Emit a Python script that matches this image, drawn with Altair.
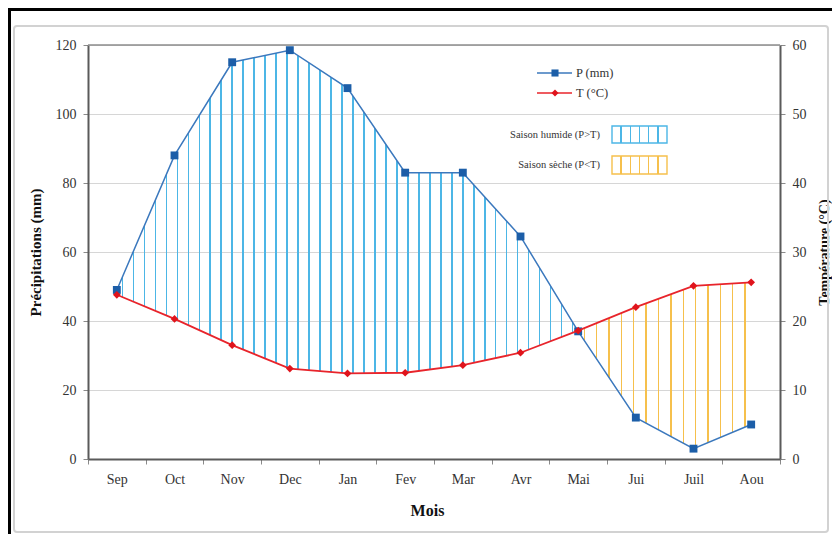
import altair as alt
import pandas as pd

months = ["Sep", "Oct", "Nov", "Dec", "Jan", "Fev", "Mar", "Avr", "Mai", "Jui", "Juil", "Aou"]
precip = [49, 88, 115, 118.5, 107.5, 83, 83, 64.5, 37, 12, 3, 10]
temp = [23.8, 20.3, 16.5, 13.1, 12.4, 12.5, 13.6, 15.4, 18.6, 22.0, 25.1, 25.6]
p_ticks = [0, 20, 40, 60, 80, 100, 120]
t_ticks = [0, 10, 20, 30, 40, 50, 60]
p_label = "P (mm)"
t_label = "T (°C)"
wet_label = "Saison humide (P>T)"
dry_label = "Saison sèche (P<T)"

df = pd.DataFrame({"mois": months, "P": precip, "T": temp})
one = alt.Data(values=[{}])

W, H = 692, 414
STEP = W / len(months)
FONT = "Liberation Serif"
BLUE_H = "#4cb6e6"
ORANGE_H = "#f6c04c"
CLEAR = "rgba(255,255,255,0)"


def stripes(color, centers, lw_frac):
    stops = [alt.GradientStop(offset=0, color=CLEAR)]
    for c in centers:
        a = max(0.0, c - lw_frac / 2)
        b = min(1.0, c + lw_frac / 2)
        stops += [
            alt.GradientStop(offset=a, color=CLEAR),
            alt.GradientStop(offset=a, color=color),
            alt.GradientStop(offset=b, color=color),
            alt.GradientStop(offset=b, color=CLEAR),
        ]
    stops.append(alt.GradientStop(offset=1, color=CLEAR))
    return alt.LinearGradient(gradient="linear", stops=stops, x1=0, x2=1, y1=0, y2=0)


wet_w = 8 * STEP
dry_w = 3 * STEP
n_wet, n_dry = 42, 14
wet_grad = stripes(BLUE_H, [(k + 0.5) / n_wet for k in range(n_wet)], 1.4 / wet_w)
dry_grad = stripes(ORANGE_H, [(k + 0.5) / n_dry for k in range(n_dry)], 1.4 / dry_w)
box_w = 55
wet_box = stripes(BLUE_H, [k / 6 for k in range(1, 6)], 1.4 / box_w)
dry_box = stripes(ORANGE_H, [k / 6 for k in range(1, 6)], 1.4 / box_w)

axis_common = dict(
    labelFont=FONT, labelFontSize=14, labelColor="#333333",
    titleFont=FONT, titleFontWeight="bold", titleColor="#111111",
    domainColor="#5a5a5a", domainWidth=2, tickColor="#8a8a8a", tickSize=5,
)

xenc = alt.X(
    "mois:N", sort=months,
    scale=alt.Scale(type="band", paddingInner=0, paddingOuter=0),
    bandPosition=0.5,
    axis=alt.Axis(title="Mois", tickBand="extent", labelAngle=0, labelPadding=8,
                  grid=False, titleX=339, titleY=51, titleBaseline="middle",
                  titleFontSize=16, **axis_common),
)

left_axis = alt.Axis(title="Précipitations (mm)", orient="left", values=p_ticks,
                     grid=True, gridColor="#d6d6d6", labelPadding=7, titleFontSize=15,
                     titleX=-53, titleY=H / 2, titleAngle=270, titleAlign="center",
                     titleBaseline="middle", **axis_common)
right_axis = alt.Axis(title="Température (°C)", orient="right", values=t_ticks,
                      grid=False, labelPadding=7, titleFontSize=14,
                      titleX=44, titleY=H / 2, titleAngle=270, titleAlign="center",
                      titleBaseline="middle", **axis_common)
yP = alt.Scale(domain=[0, 120], nice=False)
yT = alt.Scale(domain=[0, 60], nice=False)

# frames
black_frame = alt.Chart(one).mark_rect(fill=None, stroke="black", strokeWidth=3).encode(
    x=alt.value(-78.5), x2=alt.value(W + 80), y=alt.value(-35.5), y2=alt.value(H + 90))
gray_frame = alt.Chart(one).mark_rect(fill=None, stroke="#d2d2d2", strokeWidth=2, cornerRadius=3).encode(
    x=alt.value(-74), x2=alt.value(W + 48), y=alt.value(-19), y2=alt.value(H + 73))

top_rule = alt.Chart(alt.Data(values=[{"v": 120}])).mark_rule(color="#8c8c8c", strokeWidth=1.5).encode(
    y=alt.Y("v:Q", scale=yP, axis=left_axis))

wet_area = alt.Chart(df).transform_filter(
    alt.FieldOneOfPredicate(field="mois", oneOf=months[:9])
).transform_calculate(T2="2*datum.T").mark_area(fill=wet_grad, strokeWidth=0).encode(
    x=xenc, y=alt.Y("P:Q", scale=yP, axis=left_axis), y2="T2:Q")
dry_area = alt.Chart(df).transform_filter(
    alt.FieldOneOfPredicate(field="mois", oneOf=months[8:])
).transform_calculate(T2="2*datum.T").mark_area(fill=dry_grad, strokeWidth=0).encode(
    x=xenc, y=alt.Y("P:Q", scale=yP, axis=left_axis), y2="T2:Q")

p_line = alt.Chart(df).mark_line(color="#3b78bd", strokeWidth=1.5).encode(
    x=xenc, y=alt.Y("P:Q", scale=yP, axis=left_axis))
p_pts = alt.Chart(df).mark_point(shape="square", filled=True, size=62, color="#1c5ea8", opacity=1).encode(
    x=xenc, y=alt.Y("P:Q", scale=yP, axis=left_axis))

left = alt.layer(top_rule, wet_area, dry_area, p_line, p_pts)

t_line = alt.Chart(df).mark_line(color="#e8242b", strokeWidth=1.8).encode(
    x=xenc, y=alt.Y("T:Q", scale=yT, axis=right_axis))
t_pts = alt.Chart(df).mark_point(shape="diamond", filled=True, size=60, color="#e0141c", opacity=1).encode(
    x=xenc, y=alt.Y("T:Q", scale=yT, axis=right_axis))
right = alt.layer(t_line, t_pts)

# legend
leg = []
for yy, col, mcol, shp, lab in [(28, "#3b78bd", "#1c5ea8", "square", p_label),
                                (48, "#e8242b", "#e0141c", "diamond", t_label)]:
    leg.append(alt.Chart(one).mark_rule(color=col, strokeWidth=1.6).encode(
        x=alt.value(449), x2=alt.value(484), y=alt.value(yy)))
    leg.append(alt.Chart(one).mark_point(shape=shp, filled=True, size=50, color=mcol, opacity=1).encode(
        x=alt.value(467), y=alt.value(yy)))
    leg.append(alt.Chart(one).mark_text(align="left", baseline="middle", font=FONT, fontSize=12.5,
                                        color="#333333").encode(
        x=alt.value(488), y=alt.value(yy), text=alt.value(lab)))

for y1, y2, col, grad, lab in [(81, 98, BLUE_H, wet_box, wet_label),
                               (111, 129, ORANGE_H, dry_box, dry_label)]:
    leg.append(alt.Chart(one).mark_rect(fill=grad, stroke=col, strokeWidth=1.4).encode(
        x=alt.value(524), x2=alt.value(524 + box_w), y=alt.value(y1), y2=alt.value(y2)))
    leg.append(alt.Chart(one).mark_text(align="right", baseline="middle", font=FONT, fontSize=10.5,
                                        color="#333333").encode(
        x=alt.value(512), y=alt.value((y1 + y2) / 2), text=alt.value(lab)))

chart = alt.layer(
    alt.layer(black_frame, gray_frame), left, right, alt.layer(*leg)
).resolve_scale(y="independent").properties(
    width=W, height=H,
    padding={"left": 80, "top": 37, "right": 52, "bottom": 75},
    autosize=alt.AutoSizeParams(type="none"),
    background="white",
).configure_view(stroke=None)

chart.save("out.html", embed_options={"renderer": "svg", "actions": False})
